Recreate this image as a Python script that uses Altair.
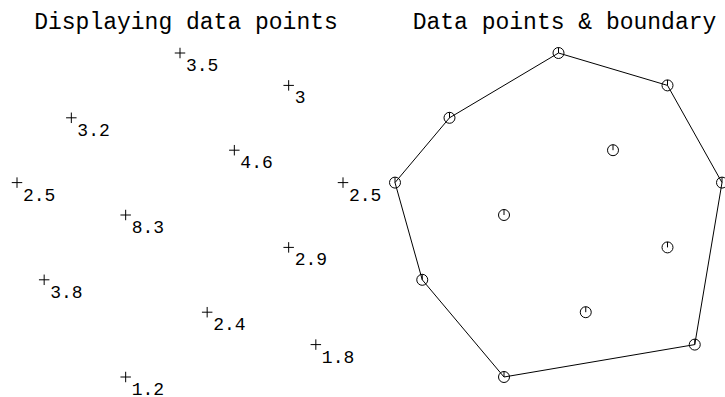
import altair as alt
import pandas as pd

# Point coordinates and the value attached to each point
xs = [6, 10, 2, 8, 0, 12, 4, 10, 1, 7, 11, 4]
ys = [10, 9, 8, 7, 6, 6, 5, 4, 3, 2, 1, 0]
vals = ["3.5", "3", "3.2", "4.6", "2.5", "2.5", "8.3", "2.9", "3.8", "2.4", "1.8", "1.2"]

# Convex hull, as indices into the points above, walked in order and closed
hull_order = [4, 2, 0, 1, 5, 10, 11, 8, 4]

titles = ["Displaying data points", "Data points & boundary"]

points = pd.DataFrame({"x": xs, "y": ys, "val": vals})
hull = pd.DataFrame({
    "x": [xs[i] for i in hull_order],
    "y": [ys[i] for i in hull_order],
    "step": list(range(len(hull_order))),
})

FONT = "Liberation Mono"

# Each panel gets its own horizontal scale, both share the vertical one
x_left = alt.Scale(domain=[0, 12], range=[17, 343], nice=False, zero=False)
x_right = alt.Scale(domain=[0, 12], range=[395, 722], nice=False, zero=False)
y_scale = alt.Scale(domain=[0, 10], range=[377, 53], nice=False, zero=False)
Y = alt.Y("y:Q", scale=y_scale, axis=None)

PLUS = "M -1 0 L 1 0 M 0 -1 L 0 1"
CIRCLE_TICK = "M -1 0 A 1 1 0 1 1 1 0 A 1 1 0 1 1 -1 0 Z M 0 -1 L 0 0"


def panel_title(text, xscale):
    return alt.Chart().mark_text(
        text=text, font=FONT, fontSize=23, align="center", baseline="alphabetic",
        dx=6, color="black"
    ).encode(x=alt.X(datum=6, scale=xscale, axis=None), y=alt.value(28.5))


# Left panel: crosses with their values
XL = alt.X("x:Q", scale=x_left, axis=None)
plus = alt.Chart(points).mark_point(
    shape=PLUS, size=110, filled=False, stroke="black", strokeWidth=1, opacity=1
).encode(x=XL, y=Y)
labels = alt.Chart(points).mark_text(
    font=FONT, fontSize=18, align="left", baseline="alphabetic", dx=6, dy=18,
    color="black"
).encode(x=XL, y=Y, text="val:N")
left = alt.layer(plus, labels, panel_title(titles[0], x_left))

# Right panel: points with the convex hull drawn round them
XR = alt.X("x:Q", scale=x_right, axis=None)
boundary = alt.Chart(hull).mark_line(color="black", strokeWidth=1).encode(
    x=XR, y=Y, order="step:Q"
)
circles = alt.Chart(points).mark_point(
    shape=CIRCLE_TICK, size=121, filled=False, stroke="black", strokeWidth=1, opacity=1
).encode(x=XR, y=Y)
right = alt.layer(boundary, circles, panel_title(titles[1], x_right))

chart = alt.layer(left, right).resolve_scale(x="independent").properties(
    width=725, height=397,
    autosize=alt.AutoSizeParams(type="none"),
    padding=0,
    background="white",
).configure_view(stroke=None)

chart.save("out.html", embed_options={"renderer": "svg", "actions": False})
